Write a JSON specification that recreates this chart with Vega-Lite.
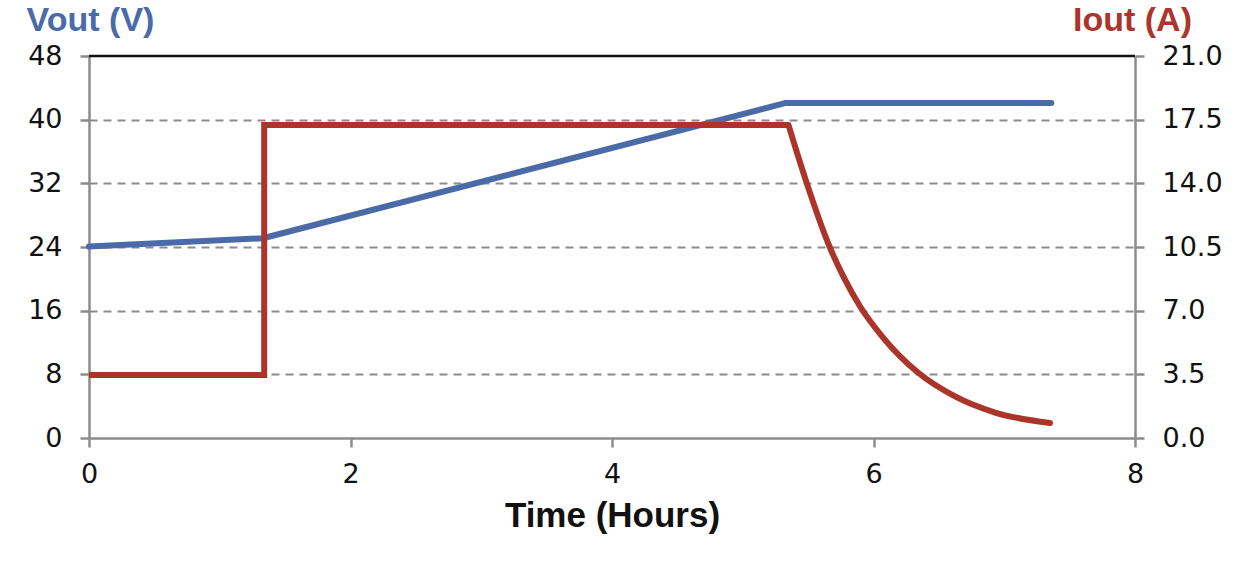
{
  "$schema": "https://vega.github.io/schema/vega-lite/v6.json",
  "autosize": "none",
  "width": 1046,
  "height": 382,
  "padding": {"left": 89, "top": 56, "right": 116, "bottom": 127},
  "background": "white",
  "config": {
    "view": {"stroke": null},
    "font": "Liberation Sans",
    "axis": {
      "labelFont": "DejaVu Sans",
      "labelFontSize": 27,
      "labelColor": "#111111",
      "domainColor": "#8c8c8c",
      "domainWidth": 2.5,
      "tickColor": "#8c8c8c",
      "tickWidth": 2.5,
      "tickSize": 9,
      "titleFont": "Liberation Sans",
      "titleFontWeight": "bold"
    }
  },
  "datasets": {
    "top": [{"v": 48}],
    "vout": [
      {"t": 0, "v": 24.05},
      {"t": 1.33, "v": 25.1},
      {"t": 5.33, "v": 42.1},
      {"t": 7.36, "v": 42.1}
    ],
    "istep": [
      {"i": 0, "t": 0, "a": 3.47},
      {"i": 1, "t": 1.34, "a": 3.47},
      {"i": 2, "t": 1.34, "a": 17.2},
      {"i": 3, "t": 5.35, "a": 17.2}
    ],
    "icurve": [
      {"t": 5.35, "a": 17.2},
      {"t": 5.49, "a": 14.0},
      {"t": 5.665, "a": 10.5},
      {"t": 5.775, "a": 8.8},
      {"t": 5.9, "a": 7.2},
      {"t": 6.07, "a": 5.55},
      {"t": 6.34, "a": 3.6},
      {"t": 6.62, "a": 2.3},
      {"t": 6.93, "a": 1.4},
      {"t": 7.35, "a": 0.82}
    ]
  },
  "layer": [
    {
      "layer": [
        {
          "data": {"name": "top"},
          "mark": {"type": "rule", "color": "#111111", "strokeWidth": 2.5},
          "encoding": {
            "y": {"field": "v", "type": "quantitative"}
          }
        },
        {
          "data": {"name": "vout"},
          "mark": {"type": "line", "color": "#4a6ba8", "strokeWidth": 6, "strokeCap": "round", "strokeJoin": "round"},
          "encoding": {
            "x": {
              "field": "t",
              "type": "quantitative",
              "scale": {"domain": [0, 8], "nice": false},
              "axis": {
                "values": [0, 2, 4, 6, 8],
                "format": "d",
                "grid": false,
                "labelFlush": false,
                "labelPadding": 14,
                "title": "Time (Hours)",
                "titleFontSize": 35,
                "titleColor": "#111111",
                "titleBaseline": "alphabetic",
                "titleY": 88,
                "titlePadding": 0
              }
            },
            "y": {
              "field": "v",
              "type": "quantitative",
              "scale": {"domain": [0, 48], "nice": false},
              "axis": {
                "orient": "left",
                "values": [0, 8, 16, 24, 32, 40, 48],
                "grid": true,
                "gridColor": "#8c8c8c",
                "gridWidth": 2,
                "gridDash": [8, 6],
                "gridOpacity": {"condition": {"test": "datum.value == 0 || datum.value == 48", "value": 0}, "value": 1},
                "labelFlush": false,
                "labelPadding": 18,
                "title": "Vout (V)",
                "titleColor": "#4a6ba8",
                "titleFontSize": 34,
                "titleAngle": 0,
                "titleAlign": "center",
                "titleBaseline": "alphabetic",
                "titleX": 1,
                "titleY": -26
              }
            }
          }
        }
      ]
    },
    {
      "layer": [
        {
          "data": {"name": "istep"},
          "mark": {"type": "line", "color": "#ab352b", "strokeWidth": 6, "strokeCap": "butt", "strokeJoin": "miter"},
          "encoding": {
            "x": {"field": "t", "type": "quantitative"},
            "y": {
              "field": "a",
              "type": "quantitative",
              "scale": {"domain": [0, 21], "nice": false},
              "axis": {
                "orient": "right",
                "values": [0, 3.5, 7, 10.5, 14, 17.5, 21],
                "format": ".1f",
                "grid": false,
                "labelFlush": false,
                "labelPadding": 18,
                "title": "Iout (A)",
                "titleColor": "#ab352b",
                "titleFontSize": 34,
                "titleAngle": 0,
                "titleAlign": "center",
                "titleBaseline": "alphabetic",
                "titleX": -3,
                "titleY": -26
              }
            },
            "order": {"field": "i"}
          }
        },
        {
          "data": {"name": "icurve"},
          "mark": {"type": "line", "color": "#ab352b", "strokeWidth": 6, "strokeCap": "round", "interpolate": "monotone"},
          "encoding": {
            "x": {"field": "t", "type": "quantitative"},
            "y": {"field": "a", "type": "quantitative"}
          }
        }
      ]
    }
  ],
  "resolve": {"scale": {"y": "independent"}}
}
